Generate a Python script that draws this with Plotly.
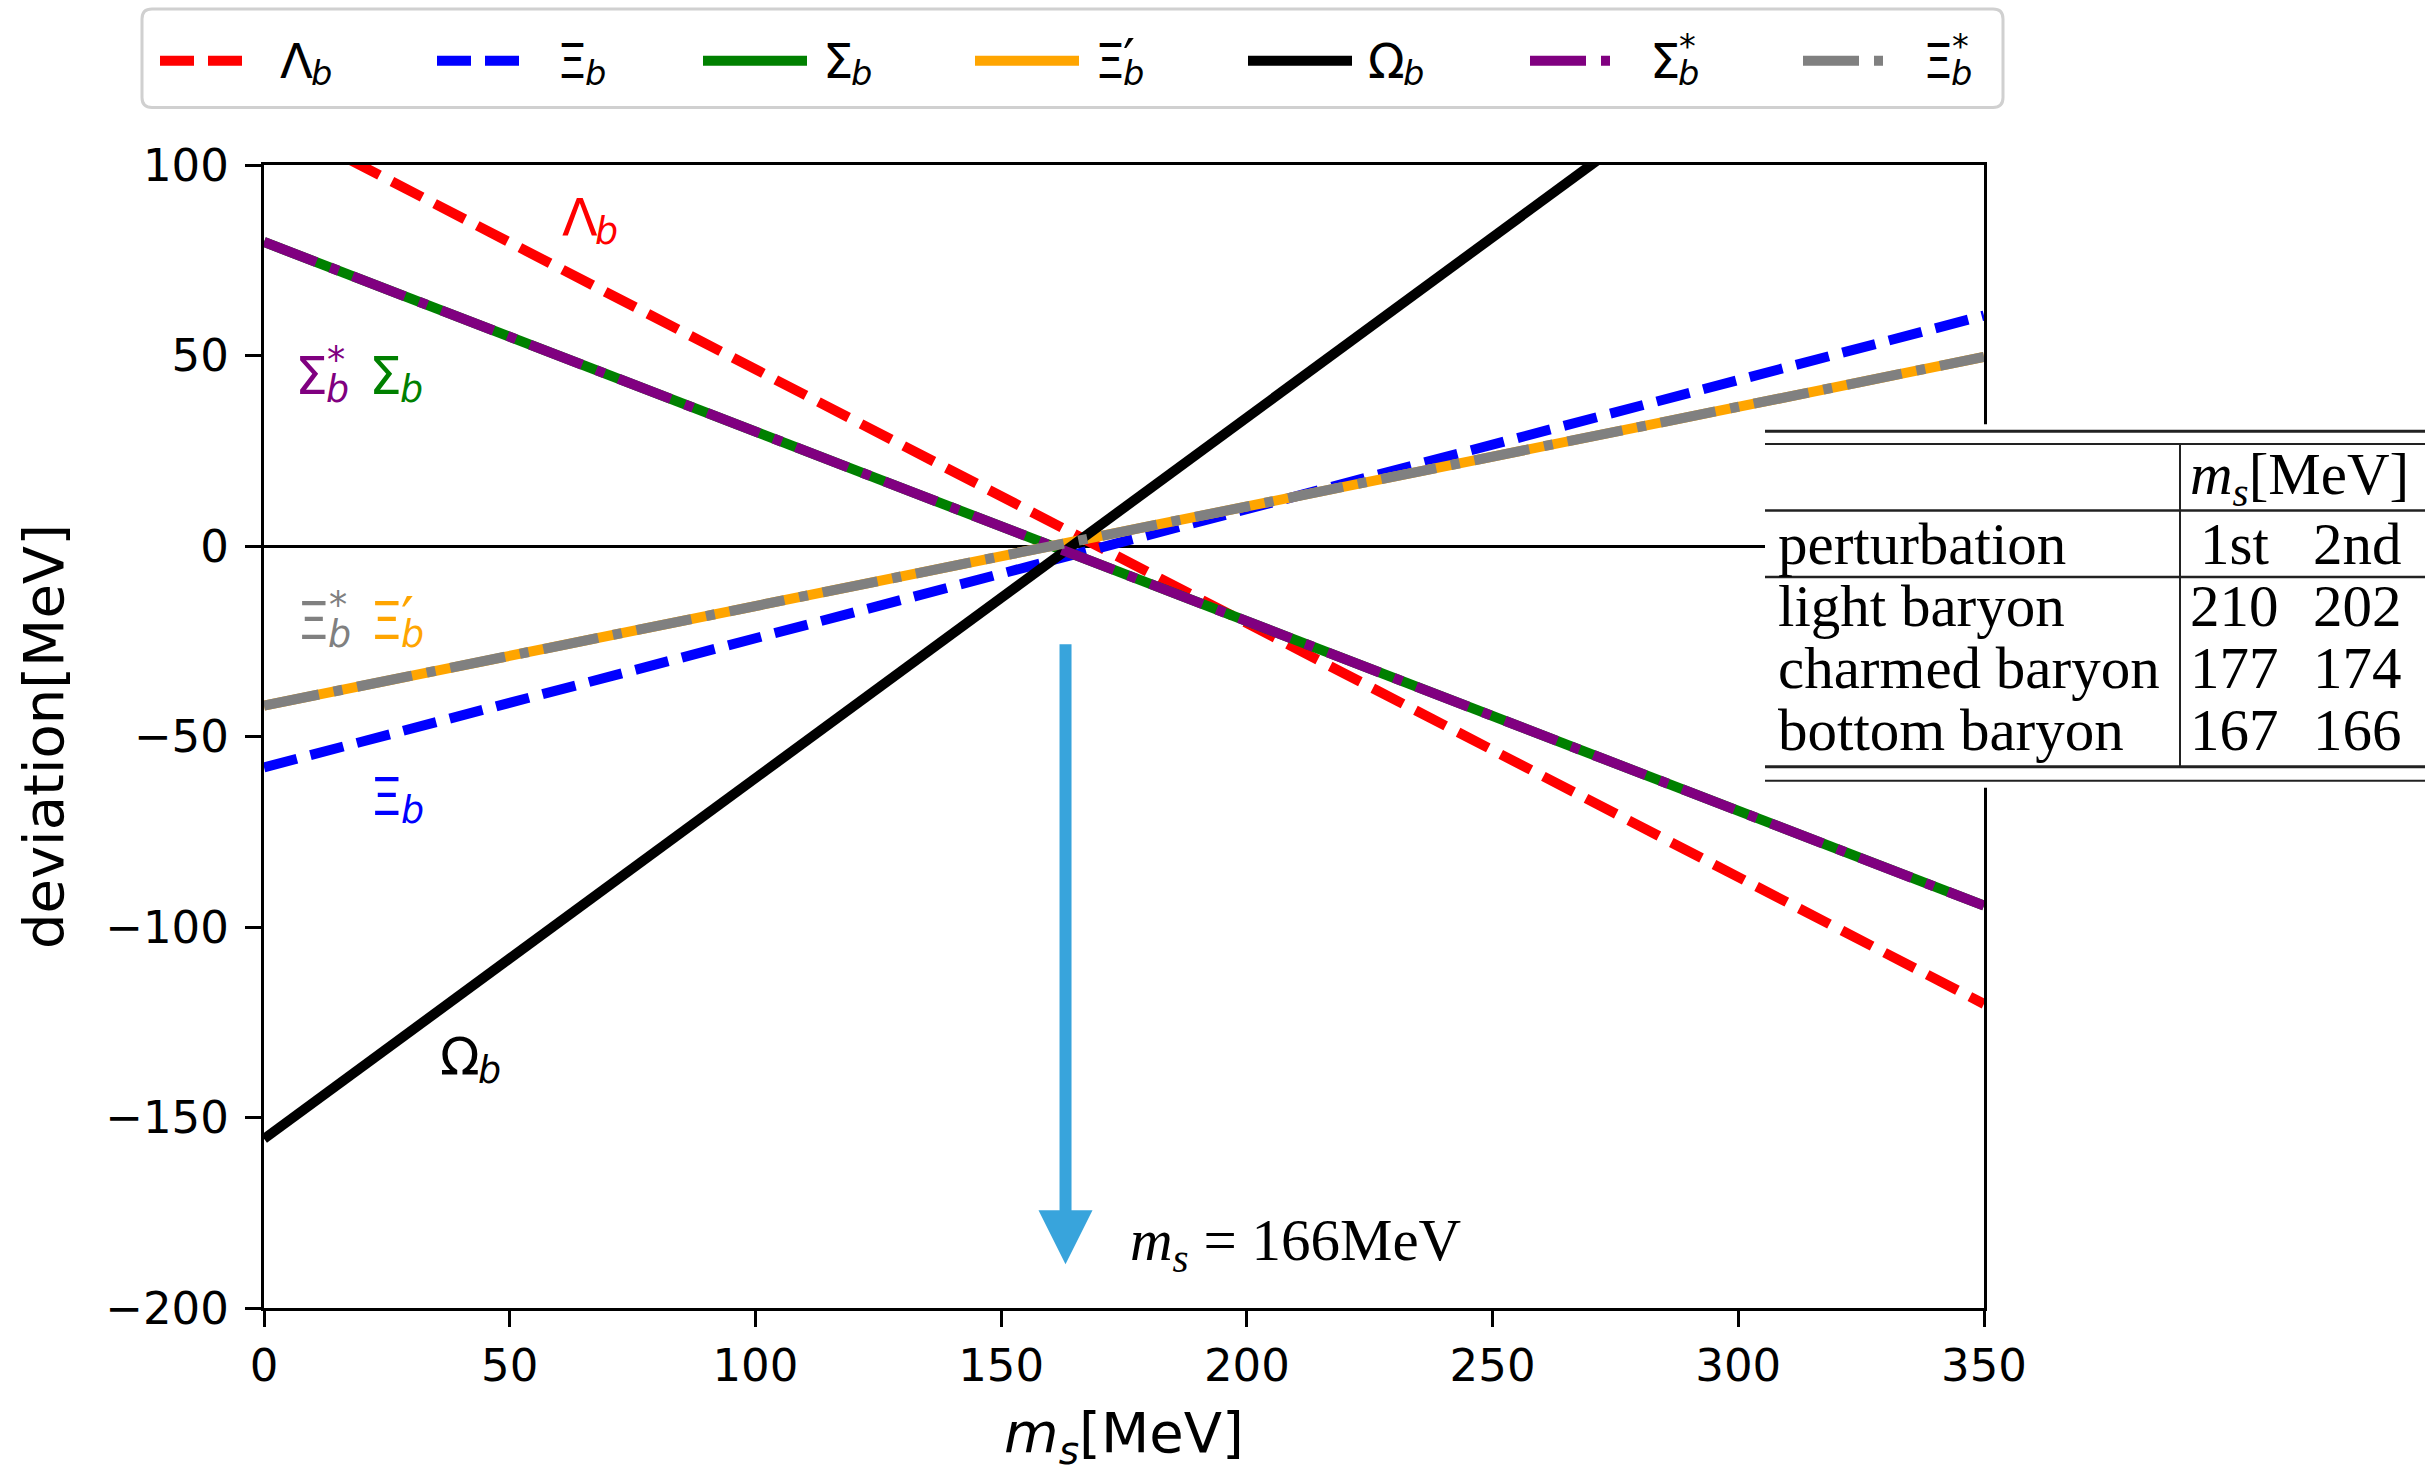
import plotly.graph_objects as go

# ---------------- data ----------------
ms_mev = [0, 350]
series_names = ["Λb", "Ξb", "Σb", "Ξ′b", "Ωb", "Σ*b", "Ξ*b"]
lambda_b = [113.0, -120.2]
xi_b = [-58.1, 60.5]
sigma_b = [79.8, -94.4]
xi_prime_b = [-41.9, 49.6]
omega_b = [-155.6, 175.7]
sigma_star_b = [79.8, -94.4]
xi_star_b = [-41.9, 49.6]

x_ticks = [0, 50, 100, 150, 200, 250, 300, 350]
y_ticks = [-200, -150, -100, -50, 0, 50, 100]

table_header = "<i>m</i><sub><i>s</i></sub>[MeV]"
table_orders = ["1st", "2nd"]
table_rows = ["light baryon", "charmed baryon", "bottom baryon"]
ms_first = [210, 177, 167]
ms_second = [202, 174, 166]
ms_marked = 166
arrow_x = 163.1
arrow_from = -25.4
arrow_to = -188.5

# ---------------- styles ----------------
FONT = "DejaVu Sans"
SERIF = "Liberation Serif"
LW = 10
DASH = "34px,14px"
DASHDOT = "56px,15px,9px,15px"
styles = [
    ("red", DASH), ("blue", DASH), ("green", "solid"), ("orange", "solid"),
    ("black", "solid"), ("purple", DASHDOT), ("gray", DASHDOT),
]
series = [lambda_b, xi_b, sigma_b, xi_prime_b, omega_b, sigma_star_b, xi_star_b]

W, H = 2425, 1473
L, R, T, B = 264, 1984, 165, 1316


def PX(px):
    return (px - L) / (R - L)


def PY(py):
    return (B - py) / (B - T)


fig = go.Figure()
for name, ys, (col, dash) in zip(series_names, series, styles):
    fig.add_trace(go.Scatter(x=ms_mev, y=ys, mode="lines", name=name, showlegend=False,
                             line=dict(color=col, width=LW, dash=dash)))

shapes = []
anns = []

GLYPH_W = {"Λ": 0.684, "Ξ": 0.632, "Σ": 0.632, "Ω": 0.764}


def label(x, y, xref, yref, base, color, F, sup=None):
    w = GLYPH_W[base] * F
    common = dict(x=x, y=y, xref=xref, yref=yref, showarrow=False,
                  xanchor="left", yanchor="middle")
    anns.append(dict(common, text=base, font=dict(family=FONT, size=F, color=color)))
    anns.append(dict(common, text="<i>b</i>", xshift=w - 2, yshift=-0.27 * F,
                     font=dict(family=FONT, size=0.7 * F, color=color)))
    if sup == "*":
        anns.append(dict(common, text="*", xshift=w - 1, yshift=0.30 * F,
                         font=dict(family=FONT, size=0.7 * F, color=color)))
    elif sup:
        anns.append(dict(common, text=sup, xshift=w - 2, yshift=0.05 * F,
                         font=dict(family=FONT, size=1.1 * F, color=color)))


# ---------------- custom legend ----------------
def rounded_rect(x0, y0, x1, y1, r):
    return (f"M {PX(x0+r)},{PY(y0)} L {PX(x1-r)},{PY(y0)} Q {PX(x1)},{PY(y0)} {PX(x1)},{PY(y0+r)} "
            f"L {PX(x1)},{PY(y1-r)} Q {PX(x1)},{PY(y1)} {PX(x1-r)},{PY(y1)} "
            f"L {PX(x0+r)},{PY(y1)} Q {PX(x0)},{PY(y1)} {PX(x0)},{PY(y1-r)} "
            f"L {PX(x0)},{PY(y0+r)} Q {PX(x0)},{PY(y0)} {PX(x0+r)},{PY(y0)} Z")


shapes.append(dict(type="path", xref="paper", yref="paper", path=rounded_rect(142, 8, 2003, 107, 10),
                   line=dict(color="#d0d0d0", width=3), fillcolor="white", layer="above"))
leg_x0 = [160, 437, 703, 975, 1248, 1530, 1803]
leg_y = 60
leg_sups = [None, None, None, "′", None, "*", "*"]
for x0, name, (col, dash), sup in zip(leg_x0, series_names, styles, leg_sups):
    length = 104 if dash == "solid" else 82
    shapes.append(dict(type="line", xref="paper", yref="paper", x0=PX(x0), x1=PX(x0 + length),
                       y0=PY(leg_y), y1=PY(leg_y), line=dict(color=col, width=LW, dash=dash),
                       layer="above"))
    label(PX(x0 + 118), PY(leg_y), "paper", "paper", name[0], "black", 48, sup)

# ---------------- in-plot labels ----------------
FL = 52
label(60.2, 86.2, "x", "y", "Λ", "red", FL)
label(5.9, 44.7, "x", "y", "Σ", "purple", FL, "*")
label(21.0, 44.7, "x", "y", "Σ", "green", FL)
label(6.3, -19.6, "x", "y", "Ξ", "gray", FL, "*")
label(21.2, -19.6, "x", "y", "Ξ", "orange", FL, "′")
label(21.2, -65.8, "x", "y", "Ξ", "blue", FL)
label(35.4, -134.1, "x", "y", "Ω", "black", FL)

# ---------------- arrow + text ----------------
anns.append(dict(x=arrow_x, y=arrow_to, ax=arrow_x, ay=arrow_from, xref="x", yref="y",
                 axref="x", ayref="y", showarrow=True, arrowhead=2, arrowsize=0.9,
                 arrowwidth=12, arrowcolor="#38a4dc", text="", standoff=0))
anns.append(dict(x=175.8, y=-183.1, xref="x", yref="y", showarrow=False, xanchor="left",
                 yanchor="middle",
                 text=f"<i>m</i><sub><i>s</i></sub> = {ms_marked}MeV",
                 font=dict(family=SERIF, size=59, color="black")))

# ---------------- table ----------------
shapes.append(dict(type="rect", xref="paper", yref="paper", x0=PX(1765), x1=PX(2425),
                   y0=PY(792), y1=PY(426), fillcolor="white", line=dict(width=0), layer="above"))
for yy, lw in [(433, 3), (446, 2), (513, 2.5), (580, 2.5), (771, 3), (785, 2)]:
    shapes.append(dict(type="line", xref="paper", yref="paper", x0=PX(1765), x1=PX(2425),
                       y0=PY(yy), y1=PY(yy), line=dict(color="#222222", width=lw), layer="above"))
shapes.append(dict(type="line", xref="paper", yref="paper", x0=PX(2180), x1=PX(2180),
                   y0=PY(446), y1=PY(771), line=dict(color="#222222", width=2), layer="above"))

TF = dict(family=SERIF, size=59, color="black")
col1, col2 = 2234, 2357
anns.append(dict(x=PX(2299), y=PY(480), xref="paper", yref="paper", text=table_header,
                 showarrow=False, xanchor="center", yanchor="middle", font=TF))
anns.append(dict(x=PX(1776), y=PY(547), xref="paper", yref="paper", text="perturbation",
                 showarrow=False, xanchor="left", yanchor="middle", font=TF))
for cx, t in zip([col1, col2], table_orders):
    anns.append(dict(x=PX(cx), y=PY(547), xref="paper", yref="paper", text=t,
                     showarrow=False, xanchor="center", yanchor="middle", font=TF))
for ry, name, v1, v2 in zip([609, 672, 734], table_rows, ms_first, ms_second):
    anns.append(dict(x=PX(1776), y=PY(ry), xref="paper", yref="paper", text=name,
                     showarrow=False, xanchor="left", yanchor="middle", font=TF))
    anns.append(dict(x=PX(col1), y=PY(ry), xref="paper", yref="paper", text=str(v1),
                     showarrow=False, xanchor="center", yanchor="middle", font=TF))
    anns.append(dict(x=PX(col2), y=PY(ry), xref="paper", yref="paper", text=str(v2),
                     showarrow=False, xanchor="center", yanchor="middle", font=TF))

axis_common = dict(showline=True, linecolor="black", linewidth=3.3, mirror=True,
                   ticks="outside", ticklen=16, tickwidth=3.3, tickcolor="black",
                   showgrid=False, tickfont=dict(family=FONT, size=45, color="black"))

fig.update_layout(
    width=W, height=H,
    margin=dict(l=L, r=W - R, t=T, b=H - B),
    plot_bgcolor="white", paper_bgcolor="white",
    font=dict(family=FONT, color="black"),
    xaxis=dict(axis_common, range=[0, 350], tickvals=x_ticks, zeroline=False,
               ticklabelstandoff=0,
               title=dict(text="<i>m</i><sub><i>s</i></sub>[MeV]", standoff=30,
                          font=dict(family=FONT, size=56, color="black"))),
    yaxis=dict(axis_common, range=[-200, 100], tickvals=y_ticks, zeroline=True,
               zerolinecolor="black", zerolinewidth=3, ticklabelstandoff=7,
               title=dict(text="deviation[MeV]", standoff=24,
                          font=dict(family=FONT, size=56, color="black"))),
    shapes=shapes,
    annotations=anns,
    showlegend=False,
)

fig.write_html("out.html", config={"displayModeBar": False},
               post_script="document.body.style.margin='0px';")
